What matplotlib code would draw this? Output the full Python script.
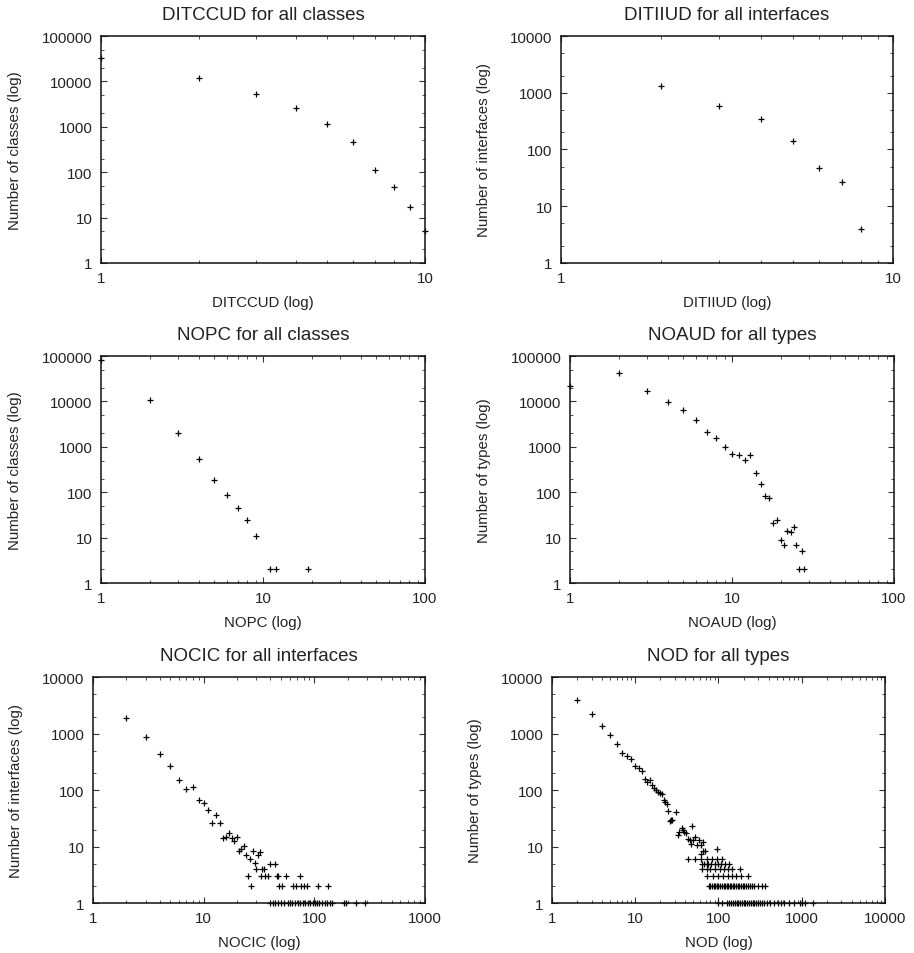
import matplotlib
matplotlib.use("Agg")
import matplotlib.pyplot as plt
from matplotlib.ticker import LogLocator, NullFormatter

plt.rcParams['font.family'] = ['Liberation Sans', 'DejaVu Sans']

# DITCCUD for all classes
ditccud_x = [1, 2, 3, 4, 5, 6, 7, 8, 9, 10]
ditccud_y = [33000, 12100, 5200, 2560, 1140, 467, 109, 47, 17, 5]

# DITIIUD for all interfaces
ditiiud_x = [2, 3, 4, 5, 6, 7, 8]
ditiiud_y = [1290, 587, 351, 139, 48, 27, 4]

# NOPC for all classes
nopc_x = [1, 2, 3, 4, 5, 6, 7, 8, 9, 11, 12, 19]
nopc_y = [80000, 10700, 2070, 535, 190, 89, 44, 24, 11, 2, 2, 2]

# NOAUD for all types
noaud_x = [1, 2, 3, 4, 5, 6, 7, 8, 9, 10, 11, 12, 13, 14, 15, 16, 17, 18, 19,
           20, 21, 22, 23, 24, 25, 26, 27, 28]
noaud_y = [22000, 41500, 17200, 9840, 6550, 3810, 2110, 1530, 984, 713, 655,
           516, 667, 262, 150, 83, 74, 21, 25, 9, 7, 14, 13, 17, 7, 2, 5, 2]

# NOCIC for all interfaces
nocic_x = [2, 3, 4, 5, 6, 7, 8, 9, 10, 11, 12, 13, 14, 15, 16, 17, 18, 19, 20,
           21, 22, 23, 24, 25, 26, 27, 28, 29, 30, 31, 32, 33, 34, 35, 36, 38,
           40, 44, 46, 47, 48, 51, 56, 64, 68, 75, 76, 81, 86, 109, 132,
           40, 42, 44, 47, 50, 53, 58, 60, 63, 67, 72, 74, 79, 83, 88, 92, 97,
           101, 106, 111, 117, 124, 130, 139, 145, 185, 195, 240, 290]
nocic_y = [1850, 855, 440, 266, 152, 103, 111, 66, 59, 45, 26, 36, 26, 14, 15,
           17.6, 14, 12.5, 15, 8.2, 9.2, 10.2, 7.2, 3, 6.1, 2, 8.2, 5.1, 4, 7.2,
           8, 3, 4, 4, 3, 3, 5, 5, 3, 3, 2, 2, 3, 2, 2, 3, 2, 2, 2, 2, 2,
           1, 1, 1, 1, 1, 1, 1, 1, 1, 1, 1, 1, 1, 1, 1, 1, 1,
           1, 1, 1, 1, 1, 1, 1, 1, 1, 1, 1, 1]

# NOD for all types
nod_x = [2, 3, 4, 5, 6, 7, 8, 9, 10, 11, 12, 13, 14, 15, 16, 17, 18, 19, 20,
         21, 22, 23, 24, 25, 26, 27, 28, 31, 33, 34, 36, 37, 39, 41, 43, 45,
         47, 48, 50, 52, 55, 59, 61, 62, 65, 65, 68, 96,
         43, 53, 62, 73, 84, 95, 109,
         64, 67, 72, 75, 82, 90, 99, 106, 119, 133,
         64, 72, 80, 90, 104, 117, 131, 146, 184,
         73, 87, 99, 114, 131, 146, 164, 185, 228,
         76, 80, 84, 88, 92, 96, 100, 105, 110, 115, 120, 125, 130, 136, 142,
         148, 155, 162, 170, 178, 186, 195, 205, 215, 228, 240, 255, 270, 300,
         330, 360,
         98, 110, 125, 135, 142, 150, 158, 165, 172, 180, 190, 200, 210, 220,
         232, 245, 258, 270, 285, 300, 318, 335, 355, 380, 420, 470, 520, 560,
         620, 700, 800, 950, 1000, 1100, 1350]
nod_y = [3920, 2210, 1340, 929, 661, 458, 405, 349, 266, 245, 220, 155, 139,
         148, 121, 110, 99, 92, 88, 84, 66, 62, 56, 42, 28, 29, 30, 41, 15.8,
         18, 21, 20, 18, 17, 13.8, 13, 11, 22.8, 13, 14.7, 10.5, 13, 7.5, 10.5,
         12, 8.2, 8.2, 9.2,
         6, 6, 6, 6, 6, 6, 6,
         5, 5, 5, 5, 5, 5, 5, 5, 5, 5,
         4, 4, 4, 4, 4, 4, 4, 4, 4,
         3, 3, 3, 3, 3, 3, 3, 3, 3,
         2, 2, 2, 2, 2, 2, 2, 2, 2, 2, 2, 2, 2, 2, 2, 2, 2, 2, 2, 2, 2, 2, 2,
         2, 2, 2, 2, 2, 2, 2, 2,
         1, 1, 1, 1, 1, 1, 1, 1, 1, 1, 1, 1, 1, 1, 1, 1, 1, 1, 1, 1, 1, 1, 1,
         1, 1, 1, 1, 1, 1, 1, 1, 1, 1, 1, 1]

panels = [
    (ditccud_x, ditccud_y, "DITCCUD for all classes", "DITCCUD (log)",
     "Number of classes (log)", 10, 100000, [0.1105, 0.7233, 0.3545, 0.2379]),
    (ditiiud_x, ditiiud_y, "DITIIUD for all interfaces", "DITIIUD (log)",
     "Number of interfaces (log)", 10, 10000, [0.6138, 0.7233, 0.3632, 0.2379]),
    (nopc_x, nopc_y, "NOPC for all classes", "NOPC (log)",
     "Number of classes (log)", 100, 100000, [0.1105, 0.3878, 0.3545, 0.2379]),
    (noaud_x, noaud_y, "NOAUD for all types", "NOAUD (log)",
     "Number of types (log)", 100, 100000, [0.6236, 0.3878, 0.3545, 0.2379]),
    (nocic_x, nocic_y, "NOCIC for all interfaces", "NOCIC (log)",
     "Number of interfaces (log)", 1000, 10000, [0.1017, 0.0524, 0.3632, 0.2369]),
    (nod_x, nod_y, "NOD for all types", "NOD (log)",
     "Number of types (log)", 10000, 10000, [0.6039, 0.0524, 0.3643, 0.2369]),
]

fig = plt.figure(figsize=(9.14, 9.54), dpi=100)
txt = '#222222'

for x, y, title, xlab, ylab, xmax, ymax, pos in panels:
    ax = fig.add_axes(pos)
    ax.plot(x, y, linestyle='none', marker='+', color='black',
            markersize=4.5, markeredgewidth=0.9, clip_on=False)
    ax.set_xscale('log')
    ax.set_yscale('log')
    ax.set_xlim(1, xmax)
    ax.set_ylim(1, ymax)

    xt = [10 ** i for i in range(len(str(xmax)))]
    yt = [10 ** i for i in range(len(str(ymax)))]
    ax.set_xticks(xt, [str(v) for v in xt])
    ax.set_yticks(yt, [str(v) for v in yt])
    ax.xaxis.set_minor_locator(LogLocator(subs=(2, 3, 4, 5, 6, 7, 8, 9)))
    ax.yaxis.set_minor_locator(LogLocator(subs=(2, 5)))
    ax.xaxis.set_minor_formatter(NullFormatter())
    ax.yaxis.set_minor_formatter(NullFormatter())

    ax.tick_params(which='both', direction='in', top=True, right=True,
                   colors='#333333', labelcolor=txt, labelsize=10.8)
    ax.tick_params(which='major', length=4, width=0.8, pad=6)
    ax.tick_params(which='minor', length=2.2, width=0.6)
    for s in ax.spines.values():
        s.set_linewidth(1.1)
        s.set_color('#111111')

    ax.set_title(title, fontsize=13.5, color=txt, pad=12)
    ax.set_xlabel(xlab, fontsize=10.8, color=txt, labelpad=7)
    ax.set_ylabel(ylab, fontsize=10.8, color=txt, labelpad=14)

fig.savefig("out.png", dpi=100)
